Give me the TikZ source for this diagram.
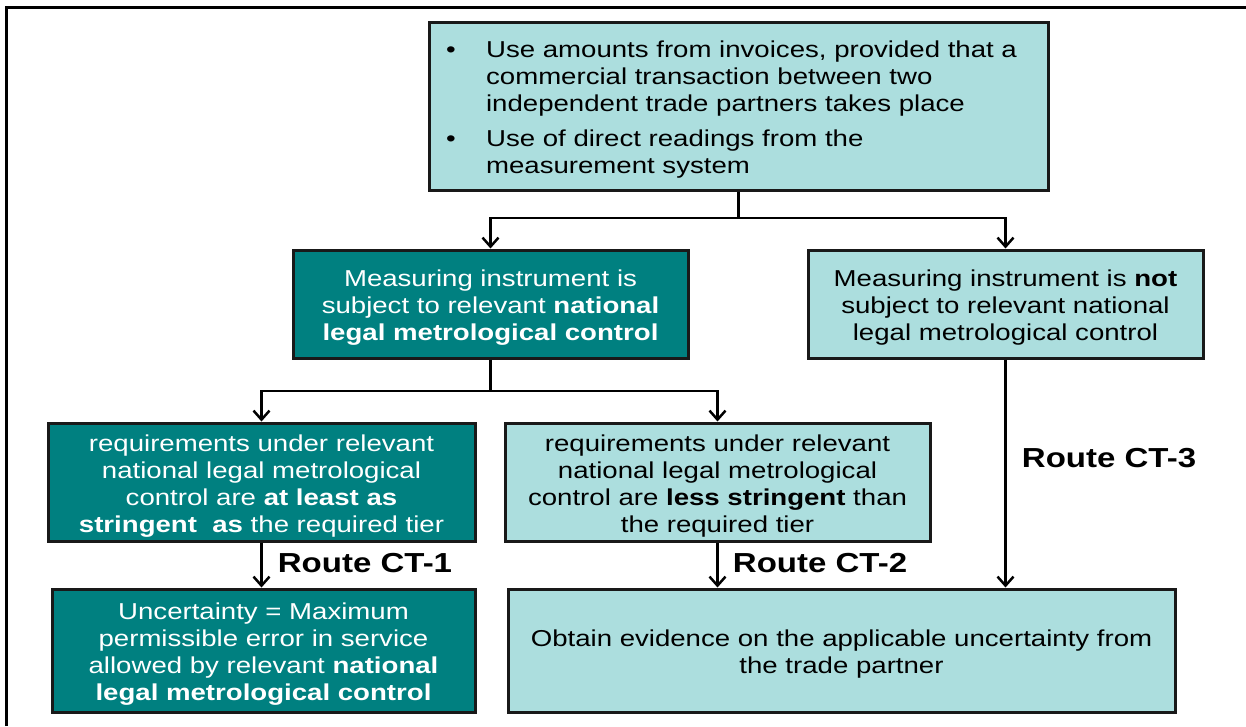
\documentclass[tikz,border=0pt]{standalone}
\usepackage{fontspec}
\setmainfont{Liberation Sans}[FakeStretch=1.2]
\usepackage{xcolor}
\usetikzlibrary{arrows.meta}
\definecolor{darkteal}{HTML}{008080}
\definecolor{paleteal}{HTML}{ACDEDE}
\newcommand{\boxlines}[1]{\raisebox{-4.5pt}[\height][\depth]{\begin{tabular}{@{}c@{}}#1\end{tabular}}}

\begin{document}
\begin{tikzpicture}[x=1pt,y=-1pt,
    box/.style={draw=black!90,line width=3pt,inner sep=0pt,
        font=\fontsize{23}{27}\selectfont},
    dark/.style={box,fill=darkteal,text=white},
    pale/.style={box,fill=paleteal,text=black},
    arr/.style={line width=2.5pt,-{Straight Barb[length=9pt,width=16pt,line width=2.5pt]}},
    route/.style={font=\fontsize{27.5}{32}\selectfont\bfseries}]
            \useasboundingbox (0,0) rectangle (1246,726);
            \draw[line width=3pt] (6,726) -- (6,7) -- (1246,7);

            \node[pale,minimum width=619pt,minimum height=168pt] at (738.5,106) (T) {%
                \raisebox{-4.5pt}[\height][\depth]{\begin{tabular}{@{}l@{}l@{\hspace{14pt}}}
                \makebox[40pt][l]{\textbullet} & Use amounts from invoices, provided that a\\
                 & commercial transaction between two\\
                 & independent trade partners takes place\\[8pt]
                \makebox[40pt][l]{\textbullet} & Use of direct readings from the\\
                 & measurement system
                \end{tabular}}};
            \node[dark,minimum width=395pt,minimum height=108pt] at (490.5,304) (M)
                {\boxlines{Measuring instrument is\\subject to relevant \textbf{national}\\\textbf{legal metrological control}}};
            \node[pale,minimum width=395pt,minimum height=108pt] at (1005.5,304) (N)
                {\boxlines{Measuring instrument is \textbf{not}\\subject to relevant national\\legal metrological control}};
            \node[dark,minimum width=427pt,minimum height=118pt] at (261.5,482) (R1)
                {\boxlines{requirements under relevant\\national legal metrological\\control are \textbf{at least as}\\\textbf{stringent}\ \ \textbf{as} the required tier}};
            \node[pale,minimum width=425pt,minimum height=118pt] at (717.5,482) (R2)
                {\boxlines{requirements under relevant\\national legal metrological\\control are \textbf{less stringent} than\\the required tier}};
            \node[dark,minimum width=423pt,minimum height=123pt] at (263.5,650.5) (U)
                {\boxlines{Uncertainty = Maximum\\permissible error in service\\allowed by relevant \textbf{national}\\\textbf{legal metrological control}}};
            \node[pale,minimum width=667pt,minimum height=123pt] at (841.5,650.5) (O)
                {\boxlines{Obtain evidence on the applicable uncertainty from\\the trade partner}};

            \coordinate (a) at (738.5,218);
            \coordinate (b) at (490.5,391);
            \draw[arr] (T.south) -- (a) -| (M.north);
            \draw[arr] (a) -| (N.north);
            \draw[arr] (M.south) -- (b) -| (R1.north);
            \draw[arr] (b) -| (R2.north);
            \draw[arr] (R1.south) -- (R1.south |- U.north);
            \draw[arr] (R2.south) -- (R2.south |- O.north);
            \draw[arr] (N.south) -- (N.south |- O.north);

            \node[route] at (365,563) (L1) {Route CT-1};
            \node[route] at (820,563) (L2) {Route CT-2};
            \node[route] at (1109,458) (L3) {Route CT-3};
        \end{tikzpicture}
\end{document}
